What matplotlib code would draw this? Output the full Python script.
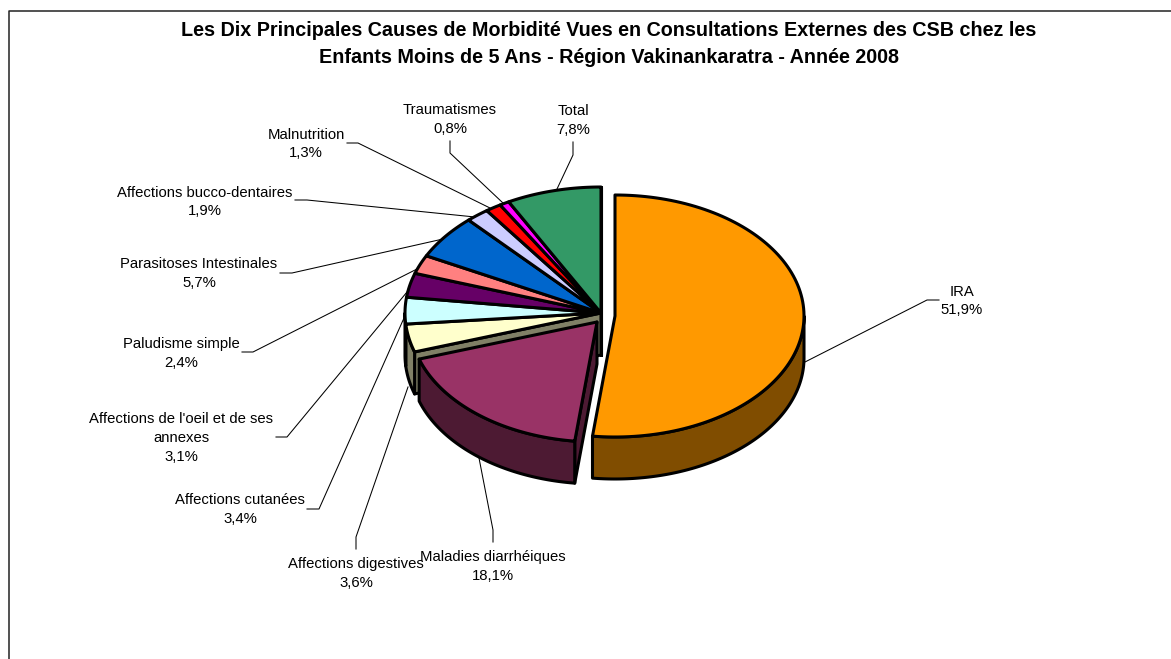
import numpy as np
import matplotlib
matplotlib.use('Agg')
import matplotlib.pyplot as plt
from matplotlib.patches import Polygon

plt.rcParams['font.family'] = ['Liberation Sans', 'DejaVu Sans']

title = "Les Dix Principales Causes de Morbidité Vues en Consultations Externes des CSB chez les\nEnfants Moins de 5 Ans - Région Vakinankaratra - Année 2008"

causes = ['IRA', 'Maladies diarrhéiques', 'Affections digestives', 'Affections cutanées',
          "Affections de l'oeil et de ses\nannexes", 'Paludisme simple', 'Parasitoses Intestinales',
          'Affections bucco-dentaires', 'Malnutrition', 'Traumatismes', 'Total']
percents = [51.9, 18.1, 3.6, 3.4, 3.1, 2.4, 5.7, 1.9, 1.3, 0.8, 7.8]

colors = ['#FF9900', '#993366', '#FFFFCC', '#CCFFFF', '#660066', '#FF8080',
          '#0066CC', '#CCCCFF', '#FF0000', '#FF00FF', '#339966']
wall_colors = ['#804D00', '#4D1A33', '#808066', '#668080', '#330033', '#804040',
               '#003366', '#666680', '#800000', '#800080', '#1A4D33']

# label centres and leader lines, in pixels of the picture
label_pos = [(962, 301), (493, 566.5), (356, 573.5), (240, 509.5), (181, 438), (181, 353.5),
             (199, 273.5), (205, 202), (306, 144), (450, 119.5), (573, 120.5)]
leaders = [[(939, 300), (927, 300), (805, 362)],
           [(493, 542), (493, 530), (479, 458)],
           [(356, 549), (356, 537), (408, 387)],
           [(307, 509), (319, 509), (404, 318)],
           [(276, 437), (287, 437), (407, 292)],
           [(242, 352), (253, 352), (417, 269)],
           [(280, 273), (292, 273), (443, 239)],
           [(295, 200), (307, 200), (475, 217)],
           [(347, 143), (358, 143), (490, 208)],
           [(450, 141), (450, 153), (503, 203)],
           [(573, 142), (573, 155), (557, 189)]]

# pie geometry: centre x, centre y, rx, ry for the two pulled slices and the rest
DEPTH = 42
LW = 2.2
geom_ira = (615, 316, 189, 121)
geom_mal = (597, 322, 187, 120)
geom_rest = (601, 313, 196, 126)


def rim(t0, t1, g):
    t = np.radians(np.linspace(t0, t1, 120))
    return np.column_stack([g[0] + g[2] * np.sin(t), g[1] - g[3] * np.cos(t)])


def draw_wall(ax, t0, t1, g, wall):
    # outer wall is only seen on the lower half of the ellipse
    a, b = max(t0, 90), min(t1, 270)
    if b <= a:
        return
    pts = rim(a, b, g)
    low = pts[::-1] + [0, DEPTH]
    ax.add_patch(Polygon(np.vstack([pts, low]), fc=wall, ec='black', lw=LW, joinstyle='round'))


def draw_cut(ax, t, g, wall):
    tip = np.array(g[:2], dtype=float)
    edge = rim(t, t, g)[0]
    pts = [tip, edge, edge + [0, DEPTH], tip + [0, DEPTH]]
    ax.add_patch(Polygon(pts, fc=wall, ec='black', lw=LW, joinstyle='round'))


def draw_top(ax, t0, t1, g, color):
    pts = np.vstack([[g[:2]], rim(t0, t1, g)])
    ax.add_patch(Polygon(pts, fc=color, ec='black', lw=LW, joinstyle='round'))


fig = plt.figure(figsize=(11.71, 6.59), dpi=100)
ax = fig.add_axes([0, 0, 1, 1])
ax.set_xlim(0, 1171)
ax.set_ylim(659, 0)
ax.axis('off')

# chart frame runs off the right and bottom of the picture
ax.plot([9, 9, 1171], [659, 11, 11], color='#222222', lw=1.1)

ends = np.cumsum(percents) * 3.6
starts = np.concatenate([[0], ends[:-1]])

# all the slices that stay together: walls first, then the tops over them
draw_cut(ax, starts[2], geom_rest, wall_colors[2])
draw_cut(ax, ends[-1], geom_rest, wall_colors[-1])
for i in range(2, len(percents)):
    draw_wall(ax, starts[i], ends[i], geom_rest, wall_colors[i])
for i in range(2, len(percents)):
    draw_top(ax, starts[i], ends[i], geom_rest, colors[i])

# Maladies diarrheiques, pulled out, shows its right cut face
draw_cut(ax, starts[1], geom_mal, wall_colors[1])
draw_wall(ax, starts[1], ends[1], geom_mal, wall_colors[1])
draw_top(ax, starts[1], ends[1], geom_mal, colors[1])

# IRA
draw_wall(ax, starts[0], ends[0], geom_ira, wall_colors[0])
draw_top(ax, starts[0], ends[0], geom_ira, colors[0])

for line in leaders:
    xs, ys = zip(*line)
    ax.plot(xs, ys, color='black', lw=0.75, solid_joinstyle='miter')

for name, pct, pos in zip(causes, percents, label_pos):
    label = '{}\n{}%'.format(name, str(pct).replace('.', ','))
    ax.text(pos[0], pos[1], label, ha='center', va='center', fontsize=10.75,
            linespacing=1.42, color='black')

ax.text(609, 44, title, ha='center', va='center', fontsize=14.2, fontweight='bold',
        linespacing=1.54, color='black')

fig.savefig('out.png', dpi=100, facecolor='white')
